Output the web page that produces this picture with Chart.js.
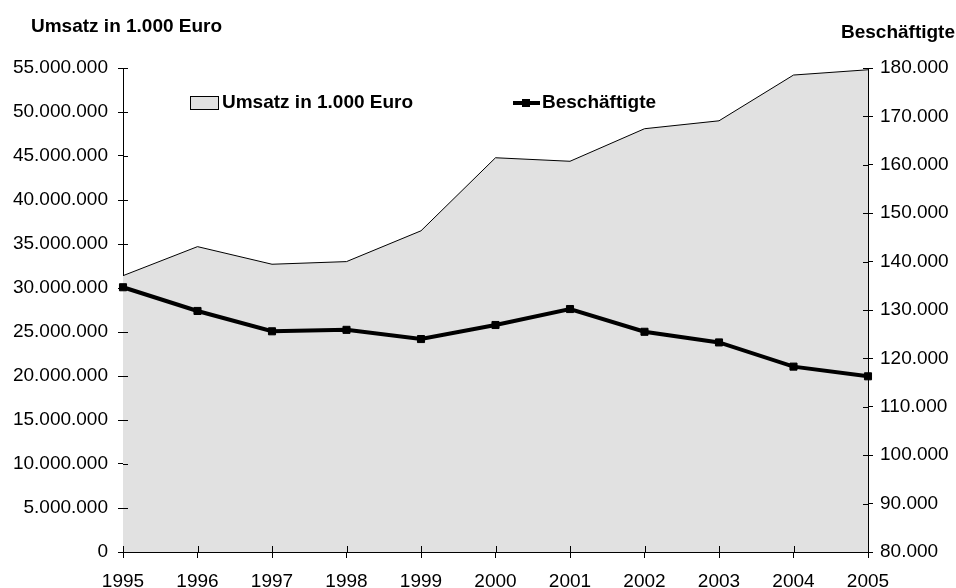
<!DOCTYPE html>
<html>
<head>
<meta charset="utf-8">
<script src="https://cdn.jsdelivr.net/npm/chart.js@4.4.0/dist/chart.umd.min.js"></script>
<style>
  html, body { margin: 0; padding: 0; background: #fff; }
  #wrap { width: 956px; height: 588px; }
</style>
</head>
<body>
<div id="wrap"><canvas id="myChart" width="956" height="588"></canvas></div>
<script>
const years = ['1995', '1996', '1997', '1998', '1999', '2000', '2001', '2002', '2003', '2004', '2005'];
const umsatz = [31400000, 34700000, 32700000, 33000000, 36500000, 44800000, 44400000, 48100000, 49000000, 54200000, 54800000];
const beschaeftigte = [134700, 129800, 125600, 125900, 124000, 126900, 130200, 125500, 123300, 118300, 116300];
const leftTitle = 'Umsatz in 1.000 Euro';
const rightTitle = 'Beschäftigte';

const fontFam = '"Liberation Sans", Arial, sans-serif';
const areaColor = '#e1e1e1';

function dots(v) {
  return String(Math.round(v)).replace(/\B(?=(\d{3})+(?!\d))/g, '.');
}

// axis titles, legend and ticks that cross the axis
const extras = {
  id: 'extras',
  afterDraw(chart) {
    const c = chart.ctx;
    const sL = chart.scales.y, sR = chart.scales.y2, sX = chart.scales.x;
    c.save();
    c.strokeStyle = '#000';
    c.lineWidth = 1;
    c.beginPath();
    sL.ticks.forEach((t, i) => {
      const y = Math.round(sL.getPixelForTick(i)) + 0.5;
      c.moveTo(sL.right, y); c.lineTo(sL.right + 5, y);
    });
    sR.ticks.forEach((t, i) => {
      const y = Math.round(sR.getPixelForTick(i)) + 0.5;
      c.moveTo(sR.left - 5, y); c.lineTo(sR.left, y);
    });
    sX.ticks.forEach((t, i) => {
      const x = Math.round(sX.getPixelForTick(i)) + 0.5;
      c.moveTo(x, sX.top - 6); c.lineTo(x, sX.top);
    });
    c.stroke();

    c.fillStyle = '#000';
    c.font = 'bold 19px ' + fontFam;
    c.textBaseline = 'middle';
    c.textAlign = 'left';
    c.fillText(leftTitle, 31, 27);
    c.textAlign = 'right';
    c.fillText(rightTitle, 955, 33);

    // legend
    const ds = chart.data.datasets;
    c.textAlign = 'left';
    c.fillStyle = areaColor;
    c.fillRect(190.5, 96.5, 28, 13);
    c.strokeRect(190.5, 96.5, 28, 13);
    c.fillStyle = '#000';
    c.fillText(ds[0].label, 222, 103);

    c.lineWidth = 4;
    c.beginPath();
    c.moveTo(513, 103); c.lineTo(540, 103);
    c.stroke();
    c.fillRect(522, 99, 8, 8);
    c.fillText(ds[1].label, 542, 103);
    c.restore();
  }
};

new Chart(document.getElementById('myChart'), {
  type: 'line',
  data: {
    labels: years,
    datasets: [{
      label: leftTitle,
      data: umsatz,
      yAxisID: 'y',
      fill: 'origin',
      backgroundColor: areaColor,
      borderColor: '#000',
      borderWidth: 1,
      pointRadius: 0,
      tension: 0,
      order: 2
    }, {
      label: rightTitle,
      data: beschaeftigte,
      yAxisID: 'y2',
      fill: false,
      borderColor: '#000',
      backgroundColor: '#000',
      borderWidth: 4,
      pointStyle: 'rect',
      pointRadius: 5,
      pointBorderWidth: 1,
      pointBorderColor: '#000',
      tension: 0,
      order: 1
    }]
  },
  options: {
    responsive: false,
    animation: false,
    layout: { padding: { top: 68, left: 0, right: 0, bottom: 0 } },
    plugins: { legend: { display: false }, tooltip: { enabled: false } },
    scales: {
      x: {
        offset: false,
        grid: { display: true, drawOnChartArea: false, tickLength: 6, color: '#000' },
        border: { display: true, color: '#000', width: 1 },
        ticks: { color: '#000', font: { family: fontFam, size: 19 }, padding: 12, maxRotation: 0, autoSkip: false },
        afterFit(s) { s.height = 36; }
      },
      y: {
        position: 'left',
        min: 0, max: 55000000,
        grid: { display: true, drawOnChartArea: false, tickLength: 5, color: '#000' },
        border: { display: true, color: '#000', width: 1 },
        ticks: { stepSize: 5000000, color: '#000', font: { family: fontFam, size: 19 }, padding: 10, callback: v => dots(v) },
        afterFit(s) { s.width = 123; }
      },
      y2: {
        position: 'right',
        min: 80000, max: 180000,
        grid: { display: true, drawOnChartArea: false, tickLength: 5, color: '#000' },
        border: { display: true, color: '#000', width: 1 },
        ticks: { stepSize: 10000, color: '#000', font: { family: fontFam, size: 19 }, padding: 7, callback: v => dots(v) },
        afterFit(s) { s.width = 88; }
      }
    }
  },
  plugins: [extras]
});
</script>
</body>
</html>
